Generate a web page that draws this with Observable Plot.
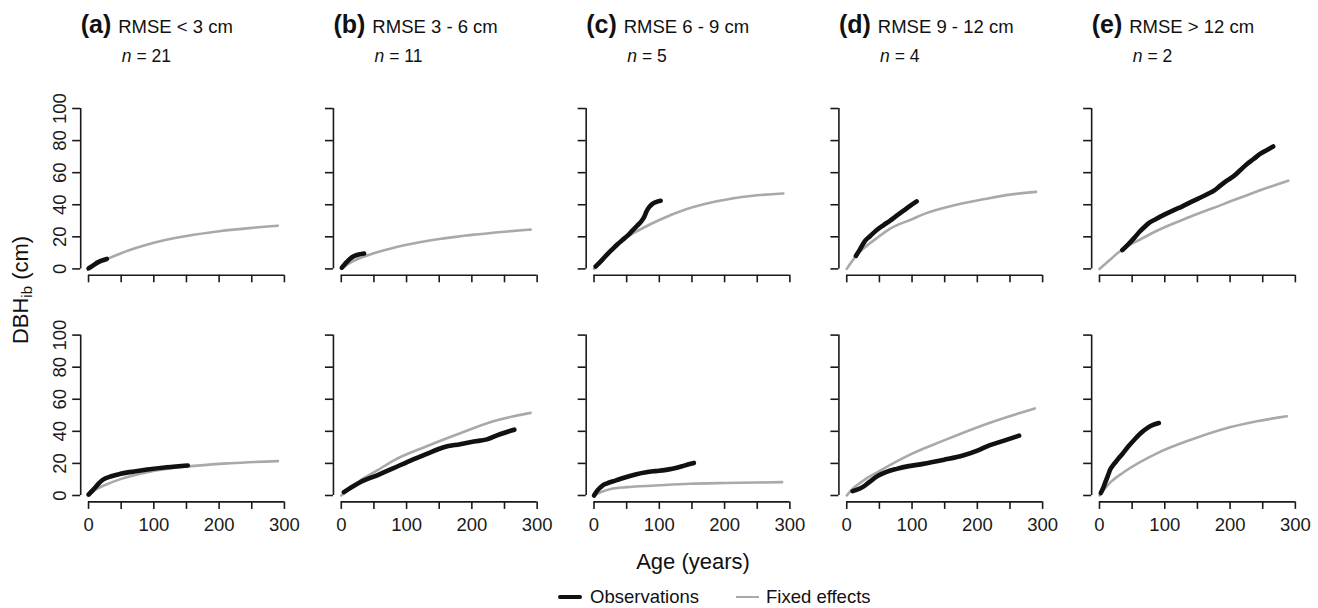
<!DOCTYPE html>
<html>
<head>
<meta charset="utf-8">
<script src="https://cdn.jsdelivr.net/npm/d3@7"></script>
<script src="https://cdn.jsdelivr.net/npm/@observablehq/plot@0.6"></script>
<style>
  html, body { margin: 0; padding: 0; background: #fff; }
  #wrap { position: relative; width: 1318px; height: 608px; overflow: hidden;
          font-family: "Liberation Sans", Arial, Helvetica, sans-serif; color: #111; }
  #chart svg { display: block; }
  .ylab { position: absolute; left: 21px; top: 290px; transform: translate(-50%, -50%) rotate(-90deg);
          font-size: 22px; white-space: nowrap; }
  .ylab sub { font-size: 15px; vertical-align: -4px; }
  .xlab { position: absolute; left: 693px; top: 562px; transform: translate(-50%, -50%);
          font-size: 22px; white-space: nowrap; }
  .legend { position: absolute; left: 558px; top: 587px; display: flex; align-items: center;
            font-size: 18.5px; line-height: 20px; white-space: nowrap; }
  .legend .sw { display: inline-block; }
</style>
</head>
<body>
<div id="wrap">
  <div id="chart"></div>
  <div class="ylab">DBH<sub>ib</sub> (cm)</div>
  <div class="xlab">Age (years)</div>
  <div class="legend" id="legend"></div>
</div>
<script>
// ---------- categories / labels ----------
const panels = ["a", "b", "c", "d", "e"];
const rmseLabels = ["RMSE < 3 cm", "RMSE 3 - 6 cm", "RMSE 6 - 9 cm", "RMSE 9 - 12 cm", "RMSE > 12 cm"];
const nTrees = [21, 11, 5, 4, 2];
const rows = ["top", "bottom"];
const xTicks = [0, 50, 100, 150, 200, 250, 300];
const xLabelTicks = [0, 100, 200, 300];
const yTicks = [0, 20, 40, 60, 80, 100];
const seriesNames = ["Observations", "Fixed effects"];
const seriesColors = ["#111111", "#a9a9a9"];

// ---------- series: [age, DBHib] ----------
// top row
const obsTopA = [[0,0.3],[5,1.6],[10,3],[15,4.2],[20,5.1],[28,6.2]];
const fixTopA = [[0,0],[10,2.5],[25,5.5],[50,9.8],[75,13.3],[100,16.3],[150,20.5],[200,23.5],[250,25.6],[290,26.9]];
const obsTopB = [[1,0.8],[5,2.8],[9,4.5],[14,6.5],[19,7.9],[25,8.8],[35,9.6]];
const fixTopB = [[0,0],[10,3],[25,6.2],[50,9.8],[75,12.6],[100,15],[150,18.6],[200,21.2],[250,23.2],[290,24.5]];
const obsTopC = [[2.5,1.5],[10,4.5],[18,8.1],[27,11.8],[36,15.4],[44,18.2],[51,20.6],[58,23.5],[66,26.9],[72,29.5],[77,32.5],[80,35.5],[84,38.3],[89,40.4],[95,41.7],[102,42.5]];
const fixTopC = [[0,0],[10,4.5],[28,12.7],[50,19.8],[75,25.5],[100,30.5],[140,37],[190,42.3],[240,45.5],[290,47]];
const obsTopD = [[14,8.1],[20,12],[28,17.5],[36,20.5],[46,24.2],[56,27.2],[66,30],[76,33],[87,36.3],[97,39.3],[107,42.1]];
const fixTopD = [[0,0],[14,8],[25,12.5],[46,19.2],[66,25],[100,31],[117,34],[168,40],[214,43.8],[250,46.3],[290,48]];
const obsTopE = [[35,11.7],[44,15.3],[53,19.2],[61,23],[68,25.8],[76,28.7],[86,31],[100,34],[114,36.7],[127,39],[139,41.5],[152,44],[167,47],[176,49],[185,51.9],[195,55],[206,58],[216,61.7],[226,65.4],[236,68.5],[246,71.7],[256,74],[266,76.3]];
const fixTopE = [[0,0],[17,6],[35,12.3],[63,18.5],[88,23.8],[139,32.5],[190,40.4],[241,48.3],[289,55]];
// bottom row
const obsBotA = [[0,0.6],[8,4],[15,7.2],[22,9.8],[35,12],[49,13.5],[70,15],[90,16.2],[120,17.6],[152,18.7]];
const fixBotA = [[0,0],[10,3.5],[23.5,6.2],[49,10.2],[90,14.5],[150,18],[217,20.1],[290,21.4]];
const obsBotB = [[4,2.1],[15,5],[29,8.3],[55,12.6],[80,17],[106,21.8],[131,26],[157,30.1],[182,32],[203,33.6],[223,35],[243,38.2],[265,41]];
const fixBotB = [[0,0],[29,9.3],[55,15.6],[80,21.8],[131,30.7],[182,38.8],[233,46.3],[290,51.5]];
const obsBotC = [[0,0],[5,3],[13,6.2],[20,7.6],[28,8.7],[38,10],[48.5,11.4],[65,13.3],[80,14.5],[94,15.2],[108,15.8],[120,16.6],[135,18.2],[145,19.5],[153,20.3]];
const fixBotC = [[0,0],[10,2],[25.5,4.1],[50,5.2],[94,6.2],[146,7.3],[200,7.8],[250,8.1],[288,8.3]];
const obsBotD = [[9,2.7],[15,3.5],[25.5,5.5],[35,8.5],[48.5,12.4],[60,14.6],[76.5,16.6],[95,18.3],[117,19.7],[148,22.2],[178,24.9],[200,28],[214,30.5],[241,34.2],[264,37.3]];
const fixBotD = [[0,0],[10,4.5],[25.5,9.3],[48.5,14.9],[97,25.5],[148,34.2],[214,44.6],[288,54.3]];
const obsBotE = [[2,1.5],[6,5],[9,8.3],[13,12.5],[17,16.6],[22,19.5],[28,22.5],[35,25.9],[44,30.5],[53,34.6],[63,38.8],[73,42],[82,44],[91,45.2]];
const fixBotE = [[0,0],[17,8.3],[37,14.5],[88,26.3],[139,34.6],[190,41.5],[241,46.3],[287,49.4]];

const obsByRow = {top: [obsTopA, obsTopB, obsTopC, obsTopD, obsTopE], bottom: [obsBotA, obsBotB, obsBotC, obsBotD, obsBotE]};
const fixByRow = {top: [fixTopA, fixTopB, fixTopC, fixTopD, fixTopE], bottom: [fixBotA, fixBotB, fixBotC, fixBotD, fixBotE]};

function toRows(byRow, series) {
  const out = [];
  for (const row of rows) {
    byRow[row].forEach((pts, i) => {
      for (const [age, dbh] of pts) out.push({panel: panels[i], row, age, dbh, key: series + row + panels[i]});
    });
  }
  return out;
}
const obsData = toRows(obsByRow, "obs");
const fixData = toRows(fixByRow, "fix");
const titleData = panels.map((p, i) => ({panel: p, row: "top", label: "(" + p + ")|" + rmseLabels[i], n: nTrees[i]}));

// R-style 4% axis expansion
const xSpan = xTicks[xTicks.length - 1] - xTicks[0];
const ySpan = yTicks[yTicks.length - 1] - yTicks[0];
const xDomain = [xTicks[0] - 0.04 * xSpan, xTicks[xTicks.length - 1] + 0.04 * xSpan];
const yDomain = [yTicks[0] - 0.04 * ySpan, yTicks[yTicks.length - 1] + 0.04 * ySpan];
const axisColor = "#1a1a1a";

const chart = Plot.plot({
  width: 1318,
  height: 580,
  marginTop: 101.6,
  marginBottom: 78.6,
  marginLeft: 80.2,
  marginRight: 15.3,
  style: {fontFamily: "'Liberation Sans', Arial, Helvetica, sans-serif", fontSize: "18px", color: axisColor, background: "white"},
  x: {domain: xDomain, label: null, axis: null},
  y: {domain: yDomain, label: null, axis: null},
  fx: {domain: panels, axis: null, paddingInner: 0.163, paddingOuter: 0, round: false},
  fy: {domain: rows, axis: null, paddingInner: 0.2355, paddingOuter: 0, round: false},
  marks: [
    // axis lines (R style, offset from data region)
    Plot.ruleY([yDomain[0]], {x1: () => xTicks[0], x2: () => xTicks[xTicks.length - 1], stroke: axisColor, strokeWidth: 1.6}),
    Plot.ruleX([xDomain[0]], {y1: () => yTicks[0], y2: () => yTicks[yTicks.length - 1], stroke: axisColor, strokeWidth: 1.6}),
    // ticks on every panel
    Plot.axisX({ticks: xTicks, anchor: "bottom", tickSize: 7.5, facetAnchor: null, fill: "none", stroke: axisColor, strokeWidth: 1.6, label: null}),
    Plot.axisY({ticks: yTicks, anchor: "left", tickSize: 8, facetAnchor: null, fill: "none", stroke: axisColor, strokeWidth: 1.6, label: null}),
    // tick labels on outer panels
    Plot.axisX({ticks: xLabelTicks, anchor: "bottom", tickSize: 0, tickPadding: 16, facetAnchor: "bottom", fontSize: 18.5, fill: axisColor, label: null}),
    Plot.axisY({ticks: yTicks, anchor: "left", tickSize: 0, tickPadding: 14.5, tickRotate: -90, facetAnchor: "left", fontSize: 18.5, fill: axisColor, label: null}),
    // series
    Plot.line(fixData, {x: "age", y: "dbh", fx: "panel", fy: "row", z: "key", stroke: seriesColors[1], strokeWidth: 2.6, curve: "monotone-x"}),
    Plot.line(obsData, {x: "age", y: "dbh", fx: "panel", fy: "row", z: "key", stroke: seriesColors[0], strokeWidth: 4.6, strokeLinecap: "round", strokeLinejoin: "round", curve: "monotone-x"}),
    // panel titles
    Plot.text(titleData, {fx: "panel", fy: "row", frameAnchor: "top-left", text: "label", textAnchor: "start", lineAnchor: "bottom", dy: -69, fontSize: 18.5, fill: "#111"}),
    Plot.text(titleData, {fx: "panel", fy: "row", frameAnchor: "top-left", text: d => "n|" + d.n, textAnchor: "start", lineAnchor: "bottom", dx: 41, dy: -40, fontSize: 17.5, fill: "#111"})
  ]
});
document.getElementById("chart").appendChild(chart);

// rich text: bold panel letter, italic n
chart.querySelectorAll("text").forEach(el => {
  const s = el.textContent;
  if (!s.includes("|")) return;
  const [a, b] = s.split("|");
  const t = d3.select(el);
  t.text(null);
  if (a === "n") {
    t.append("tspan").attr("font-style", "italic").text(a);
    t.append("tspan").attr("dx", 5).text("= " + b);
  } else {
    t.append("tspan").attr("font-weight", "bold").attr("font-size", 25).text(a);
    t.append("tspan").attr("dx", 7).text(b);
  }
});

// legend
const legend = d3.select("#legend");
seriesNames.forEach((name, i) => {
  legend.append("span").attr("class", "sw")
    .style("width", i === 0 ? "24px" : "23px")
    .style("height", i === 0 ? "4.5px" : "2.6px")
    .style("border-radius", i === 0 ? "2px" : "0")
    .style("background", seriesColors[i])
    .style("margin-left", i === 0 ? "0px" : "37px");
  legend.append("span").style("margin-left", i === 0 ? "8px" : "7px").text(name);
});
</script>
</body>
</html>
